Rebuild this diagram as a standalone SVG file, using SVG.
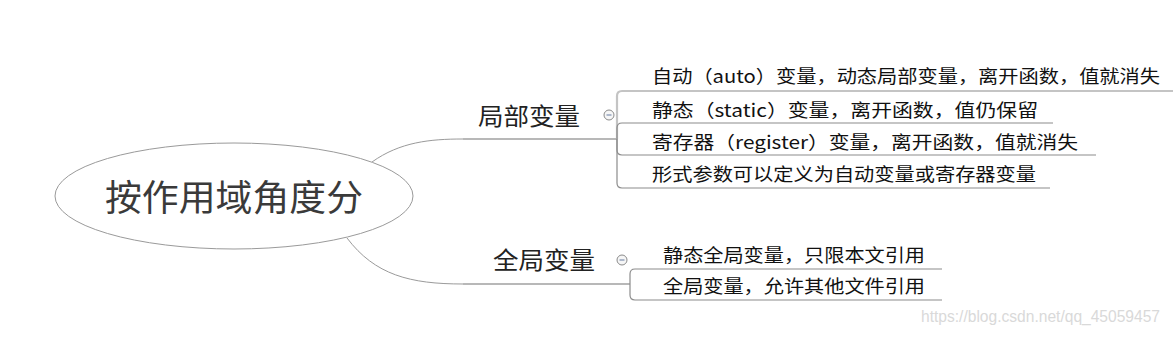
<svg xmlns="http://www.w3.org/2000/svg" width="1173" height="337" viewBox="0 0 1173 337">
<style>
.curve{fill:none;stroke:#9a9a9a;stroke-width:1}
.trunk{fill:none;stroke:#b8b8b8;stroke-width:2}
.branch{fill:none;stroke:#8c8c8c;stroke-width:1.2}
.hl{fill:none;stroke:#c4c4c4;stroke-width:2.2}
.cjk{font-family:"Noto Sans CJK SC","Noto Sans",sans-serif}
.item{font-size:18px;fill:#111}
.parent{font-size:24px;fill:#222}
.toggle circle{fill:#f6f6f6;stroke:#8a8a8a;stroke-width:1}
.toggle line{stroke:#7d8fb0;stroke-width:1.2}
</style>
<rect width="1173" height="337" fill="#ffffff"/>
<g id="connectors">
  <path class="curve" d="M372,162 C400,142 430,139 463,139"/>
  <path class="trunk" d="M463,139 L617,139"/>
  <path class="curve" d="M347,238 C375,275 410,284 463,284"/>
  <path class="trunk" d="M463,284 L630,284"/>
  <path class="hl" d="M617,139 L617,96 Q617,91 622,91 L1173,91"/>
  <path class="branch" d="M617,139 L617,128 Q617,123 622,123 L1053,123"/>
  <path class="branch" d="M617,139 L617,150 Q617,155 622,155 L1096,155"/>
  <path class="branch" d="M617,139 L617,183 Q617,188 622,188 L1050,188"/>
  <path class="branch" d="M630,284 L630,274 Q630,269 635,269 L942,269"/>
  <path class="branch" d="M630,284 L630,295 Q630,300 635,300 L942,300"/>
</g>
<g id="root">
  <ellipse cx="234" cy="196" rx="179" ry="53" fill="#ffffff" stroke="#9a9a9a" stroke-width="1"/>
  <text class="cjk" x="105" y="211" font-size="36" fill="#3a3a3a" textLength="258" lengthAdjust="spacingAndGlyphs">按作用域角度分</text>
</g>
<g id="local">
  <text class="cjk parent" x="478" y="125" textLength="102" lengthAdjust="spacingAndGlyphs">局部变量</text>
  <g class="toggle"><circle cx="609" cy="115" r="5"/><line x1="606.5" y1="115" x2="611.5" y2="115"/></g>
</g>
<g id="global">
  <text class="cjk parent" x="493" y="269" textLength="102" lengthAdjust="spacingAndGlyphs">全局变量</text>
  <g class="toggle"><circle cx="622" cy="260" r="5"/><line x1="619.5" y1="260" x2="624.5" y2="260"/></g>
</g>
<g id="local-auto">
  <text class="cjk item" x="652" y="83" textLength="508" lengthAdjust="spacingAndGlyphs">自动（auto）变量，动态局部变量，离开函数，值就消失</text>
</g>
<g id="local-static">
  <text class="cjk item" x="652" y="117" textLength="386" lengthAdjust="spacingAndGlyphs">静态（static）变量，离开函数，值仍保留</text>
</g>
<g id="local-register">
  <text class="cjk item" x="652" y="149" textLength="426" lengthAdjust="spacingAndGlyphs">寄存器（register）变量，离开函数，值就消失</text>
</g>
<g id="local-param">
  <text class="cjk item" x="652" y="181" textLength="384" lengthAdjust="spacingAndGlyphs">形式参数可以定义为自动变量或寄存器变量</text>
</g>
<g id="global-static">
  <text class="cjk item" x="663" y="262" textLength="262" lengthAdjust="spacingAndGlyphs">静态全局变量，只限本文引用</text>
</g>
<g id="global-extern">
  <text class="cjk item" x="663" y="293" textLength="262" lengthAdjust="spacingAndGlyphs">全局变量，允许其他文件引用</text>
</g>
<text x="921" y="322" font-family="Liberation Sans, Arial, sans-serif" font-size="16" fill="#d9d9d9" textLength="239" lengthAdjust="spacingAndGlyphs">https://blog.csdn.net/qq_45059457</text>
</svg>
